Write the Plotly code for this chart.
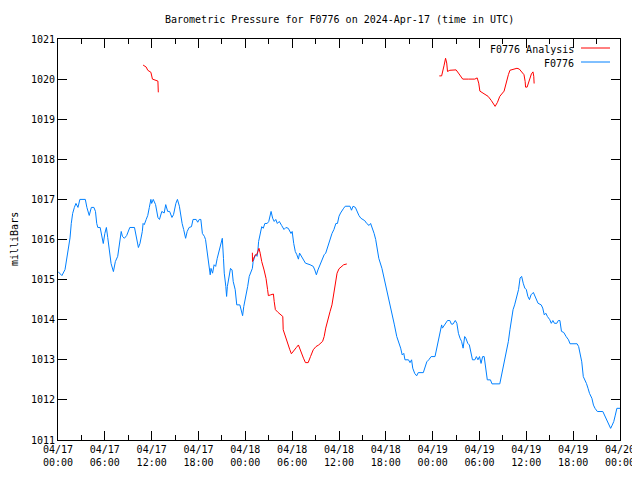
import pandas as pd
import plotly.graph_objects as go

BASE = pd.Timestamp("2024-04-17 00:00")
TITLE = "Barometric Pressure for F0776 on 2024-Apr-17 (time in UTC)"
Y_LABEL = "milliBars"
SERIES_NAMES = ["F0776 Analysis", "F0776"]
COLORS = ["#ff0000", "#0080ff"]

# Observed station pressure (hours after 2024-04-17 00:00 UTC, mbar)
obs_hours = [0.0, 0.5, 0.9, 1.15, 1.37, 1.54, 1.7, 1.88, 2.1, 2.3, 2.56, 2.8, 3.5, 3.7, 4.0, 4.27, 4.6, 4.8, 4.96, 5.1,
             5.4, 5.6, 5.8, 6.0, 6.2, 6.37, 6.6, 6.8, 7.1, 7.35, 7.65, 7.86, 8.1, 8.25, 8.5, 8.8, 9.2, 9.8, 9.9, 10.1,
             10.3, 10.5, 10.8, 10.9, 11.05, 11.3, 11.5, 11.7, 11.9, 12.0, 12.2, 12.5, 12.7, 12.8, 13.0, 13.1, 13.3, 13.6, 13.8, 14.05,
             14.3, 14.6, 14.8, 15.1, 15.3, 15.55, 15.7, 15.9, 16.1, 16.35, 16.55, 16.8, 17.1, 17.3, 17.7, 17.9, 18.1, 18.3, 18.5, 18.75,
             18.9, 19.05, 19.25, 19.5, 19.6, 19.8, 20.0, 20.2, 20.4, 20.6, 20.85, 21.05, 21.2, 21.3, 21.5, 21.6, 21.7, 21.87, 22.1, 22.3,
             22.45, 22.7, 22.9, 23.3, 23.5, 23.65, 23.8, 24.1, 24.3, 24.5, 24.7, 24.9, 25.0, 25.3, 25.5, 25.6, 25.7, 25.95, 26.1, 26.3,
             26.5, 26.8, 27.0, 27.3, 27.5, 27.7, 27.9, 28.1, 28.35, 28.65, 28.95, 29.2, 29.5, 29.85, 30.0, 30.2, 30.4, 30.6, 30.8, 30.95,
             31.2, 31.5, 31.7, 32.3, 32.7, 32.9, 33.1, 33.3, 33.6, 33.8, 34.1, 34.3, 34.55, 34.75, 34.9, 35.1, 35.35, 35.6, 35.8, 36.0,
             36.2, 36.4, 36.6, 36.8, 37.4, 37.6, 37.8, 38.1, 38.3, 38.55, 38.8, 39.05, 39.3, 39.55, 39.85, 40.05, 40.3, 40.5, 40.7, 40.9,
             41.1, 41.5, 41.8, 42.1, 42.45, 42.75, 43.1, 43.4, 43.7, 43.9, 44.1, 44.3, 44.45, 44.9, 45.1, 45.3, 45.45, 45.7, 45.95, 46.15,
             46.8, 47.0, 47.25, 47.5, 47.8, 48.3, 48.5, 48.7, 48.9, 49.15, 49.25, 49.4, 49.6, 49.9, 50.2, 50.4, 50.6, 50.9, 51.1, 51.3,
             51.5, 51.7, 51.9, 52.1, 52.25, 52.5, 52.7, 52.9, 53.1, 53.4, 53.6, 53.8, 54.0, 54.2, 54.4, 54.6, 54.8, 55.0, 55.4, 55.6,
             56.6, 56.8, 57.0, 57.3, 57.5, 57.7, 57.9, 58.1, 58.3, 58.5, 58.8, 59.0, 59.2, 59.4, 59.6, 59.8, 60.0, 60.2, 60.4, 60.6,
             60.9, 61.1, 61.5, 61.9, 62.1, 62.3, 62.5, 62.7, 63.0, 63.2, 63.4, 63.6, 63.9, 64.1, 64.3, 64.5, 64.8, 65.1, 65.4, 65.6,
             66.5, 66.7, 66.9, 67.1, 67.3, 67.5, 67.7, 67.9, 68.1, 68.4, 68.6, 68.8, 69.1, 69.8, 70.0, 70.3, 70.5, 70.8, 71.0, 71.2,
             71.4, 71.6, 72.0]
obs_mbar = [1015.2, 1015.1, 1015.25, 1015.55, 1015.85, 1016.04, 1016.4, 1016.65, 1016.8, 1016.9, 1016.8, 1017.0, 1017.0, 1016.8, 1016.6, 1016.8, 1016.8, 1016.7, 1016.4, 1016.3,
            1016.3, 1016.1, 1015.9, 1016.15, 1016.3, 1016.05, 1015.65, 1015.4, 1015.2, 1015.45, 1015.58, 1015.83, 1016.2, 1016.08, 1016.03, 1016.1, 1016.3, 1016.3, 1016.2, 1015.95,
            1015.8, 1015.9, 1016.2, 1016.4, 1016.37, 1016.5, 1016.6, 1016.8, 1017.0, 1016.9, 1017.0, 1016.87, 1016.65, 1016.55, 1016.5, 1016.58, 1016.7, 1016.66, 1016.87, 1016.7,
            1016.7, 1016.55, 1016.62, 1016.9, 1017.0, 1016.83, 1016.58, 1016.4, 1016.25, 1016.03, 1016.2, 1016.3, 1016.32, 1016.5, 1016.5, 1016.43, 1016.5, 1016.5, 1016.15, 1016.08,
            1016.0, 1015.8, 1015.5, 1015.12, 1015.28, 1015.16, 1015.37, 1015.33, 1015.53, 1015.7, 1015.9, 1016.03, 1015.53, 1015.16, 1014.83, 1014.58, 1014.83, 1015.08, 1015.28, 1015.24,
            1014.95, 1014.75, 1014.37, 1014.37, 1014.25, 1014.1, 1014.33, 1014.58, 1014.83, 1015.08, 1015.2, 1015.28, 1015.45, 1015.62, 1015.58, 1015.7, 1015.95, 1016.15, 1016.32, 1016.28,
            1016.4, 1016.4, 1016.45, 1016.7, 1016.53, 1016.45, 1016.5, 1016.4, 1016.45, 1016.35, 1016.25, 1016.3, 1016.28, 1016.15, 1016.2, 1015.9, 1015.7, 1015.62, 1015.51, 1015.66,
            1015.58, 1015.5, 1015.41, 1015.37, 1015.33, 1015.24, 1015.12, 1015.24, 1015.37, 1015.45, 1015.62, 1015.66, 1015.83, 1015.9, 1016.0, 1016.15, 1016.25, 1016.4, 1016.4, 1016.58,
            1016.66, 1016.74, 1016.78, 1016.83, 1016.83, 1016.73, 1016.83, 1016.8, 1016.7, 1016.6, 1016.53, 1016.5, 1016.47, 1016.4, 1016.35, 1016.4, 1016.28, 1016.15, 1016.0, 1015.8,
            1015.53, 1015.28, 1015.03, 1014.75, 1014.45, 1014.16, 1013.87, 1013.58, 1013.41, 1013.29, 1013.12, 1013.16, 1013.0, 1013.0, 1012.93, 1013.0, 1012.79, 1012.66, 1012.6, 1012.68,
            1012.68, 1012.79, 1012.95, 1013.0, 1013.08, 1013.08, 1013.29, 1013.5, 1013.66, 1013.87, 1013.79, 1013.83, 1013.91, 1013.98, 1013.98, 1013.89, 1013.89, 1013.98, 1013.91, 1013.66,
            1013.54, 1013.46, 1013.29, 1013.58, 1013.54, 1013.41, 1013.37, 1013.16, 1013.0, 1013.0, 1013.08, 1013.0, 1013.08, 1012.91, 1013.08, 1013.08, 1012.7, 1012.5, 1012.5, 1012.4,
            1012.4, 1012.58, 1012.83, 1013.04, 1013.25, 1013.46, 1013.75, 1014.0, 1014.25, 1014.37, 1014.58, 1014.75, 1015.04, 1015.08, 1014.91, 1014.79, 1014.75, 1014.58, 1014.5, 1014.62,
            1014.68, 1014.58, 1014.41, 1014.37, 1014.29, 1014.12, 1014.16, 1014.08, 1014.0, 1013.91, 1013.98, 1013.91, 1013.91, 1013.98, 1013.98, 1013.71, 1013.68, 1013.58, 1013.5, 1013.4,
            1013.4, 1013.33, 1013.16, 1012.95, 1012.58, 1012.5, 1012.41, 1012.29, 1012.16, 1012.04, 1011.87, 1011.79, 1011.71, 1011.71, 1011.62, 1011.51, 1011.41, 1011.29, 1011.37, 1011.46,
            1011.62, 1011.79, 1011.79]

# Analysis pressure, three separate runs (None = gap)
ana_hours = [10.9, 11.3, 11.5, 11.9, 12.1, 12.8, 12.85, None,
             24.9, 24.92, 25.05, 25.3, 25.45, 25.6, 25.75, 25.9, 26.1, 26.4, 26.65, 26.85, 26.95, 27.25, 27.6, 27.7, 27.85,
             28.2, 28.5, 28.8, 28.85, 29.05, 29.3, 29.5, 29.7, 29.9, 30.25, 30.55, 30.8, 31.1, 31.45, 31.7, 32.05, 32.35,
             32.7, 33.05, 33.4, 33.9, 34.1, 34.3, 34.6, 34.85, 35.1, 35.35, 35.55, 35.75, 36.0, 36.3, 36.6, 37.0, None,
             48.85, 49.15, 49.45, 49.65, 49.8, 49.9, 50.2, 50.65, 51.0, 51.3, 51.85, 52.6, 53.4, 53.7, 53.9, 54.05, 54.4,
             54.8, 55.1, 55.5, 55.8, 56.0, 56.3, 56.6, 57.15, 57.4, 57.7, 57.9, 58.35, 58.8, 59.1, 59.4, 59.7, 59.85, 59.9,
             60.1, 60.35, 60.65, 60.85, 60.95, 61.0]
ana_mbar = [1020.35, 1020.3, 1020.22, 1020.17, 1020.0, 1019.95, 1019.67, None,
            1015.67, 1015.45, 1015.53, 1015.62, 1015.62, 1015.7, 1015.78, 1015.66, 1015.45, 1015.24, 1015.03, 1014.75, 1014.6, 1014.62, 1014.64, 1014.45, 1014.25,
            1014.18, 1014.12, 1014.08, 1013.75, 1013.62, 1013.46, 1013.33, 1013.25, 1013.15, 1013.25, 1013.31, 1013.37, 1013.2, 1013.04, 1012.93, 1012.93, 1013.08,
            1013.25, 1013.33, 1013.37, 1013.46, 1013.58, 1013.79, 1014.04, 1014.2, 1014.37, 1014.66, 1014.91, 1015.16, 1015.27, 1015.31, 1015.37, 1015.39, None,
            1020.08, 1020.08, 1020.33, 1020.52, 1020.4, 1020.19, 1020.22, 1020.22, 1020.23, 1020.15, 1020.0, 1020.0, 1020.0, 1020.03, 1019.9, 1019.7, 1019.65,
            1019.6, 1019.57, 1019.47, 1019.38, 1019.32, 1019.42, 1019.57, 1019.7, 1019.9, 1020.11, 1020.22, 1020.25, 1020.27, 1020.25, 1020.17, 1020.11, 1019.94, 1019.8,
            1019.8, 1019.97, 1020.13, 1020.18, 1020.07, 1019.89]

Y_RANGE = [1011, 1021]
X_RANGE_HOURS = [0, 72]


def to_time(hours):
    return [None if h is None else BASE + pd.Timedelta(hours=h) for h in hours]


FONT = "DejaVu Sans Mono"

fig = go.Figure()
fig.add_trace(go.Scatter(x=to_time(obs_hours), y=obs_mbar, mode="lines", name=SERIES_NAMES[1],
                         line=dict(color=COLORS[1], width=1), connectgaps=False, showlegend=False))
fig.add_trace(go.Scatter(x=to_time(ana_hours), y=ana_mbar, mode="lines", name=SERIES_NAMES[0],
                         line=dict(color=COLORS[0], width=1), connectgaps=False, showlegend=False))

# The page body has an 8px margin, so the figure is drawn at (8, 8) in the window.
OFF = 8
W, H = 640 - OFF, 480 - OFF
PLOT_L, PLOT_R, PLOT_T, PLOT_B = 58, 620, 39, 440  # window pixels
L, R, T, B = PLOT_L - OFF, 640 - PLOT_R, PLOT_T - OFF, 480 - PLOT_B
pw, ph = PLOT_R - PLOT_L, PLOT_B - PLOT_T


def px_x(px):
    return (px - PLOT_L) / pw


def px_y(py):
    return (PLOT_B - py) / ph


annotations = [
    dict(text=TITLE, xref="paper", yref="paper", x=0.5, y=px_y(19), xanchor="center", yanchor="middle",
         showarrow=False, font=dict(family=FONT, size=10, color="black")),
    dict(text=Y_LABEL, xref="paper", yref="paper", x=px_x(14.5), y=0.5, xanchor="center", yanchor="middle",
         textangle=-90, showarrow=False, borderpad=0, font=dict(family=FONT, size=10, color="black")),
]
shapes = []
for i, (name, color) in enumerate(zip(SERIES_NAMES, COLORS)):
    yy = 49 + 14 * i
    annotations.append(dict(text=name, xref="paper", yref="paper", x=px_x(576), y=px_y(yy),
                            xanchor="right", yanchor="middle", showarrow=False,
                            font=dict(family=FONT, size=10, color="black")))
    shapes.append(dict(type="line", xref="paper", yref="paper", x0=px_x(581), x1=px_x(610),
                       y0=px_y(yy - 1), y1=px_y(yy - 1), line=dict(color=color, width=1)))

fig.update_layout(
    width=W, height=H,
    margin=dict(l=L, r=R, t=T, b=B, autoexpand=False),
    paper_bgcolor="white", plot_bgcolor="white",
    showlegend=False,
    annotations=annotations,
    shapes=shapes,
    font=dict(family=FONT, size=10, color="black"),
)
fig.update_xaxes(
    type="date", automargin=False,
    range=[BASE + pd.Timedelta(hours=X_RANGE_HOURS[0]), BASE + pd.Timedelta(hours=X_RANGE_HOURS[1])],
    dtick=6 * 3600 * 1000, tick0=BASE, tickformat="%m/%d<br>%H:%M",
    ticks="inside", ticklen=9, tickcolor="black", tickwidth=1,
    minor=dict(ticks="inside", ticklen=5, dtick=3 * 3600 * 1000, tickcolor="black", showgrid=False),
    showline=True, linecolor="black", linewidth=1, mirror="ticks",
    showgrid=False, zeroline=False,
    tickfont=dict(family=FONT, size=10, color="black"),
)
fig.update_yaxes(
    range=Y_RANGE, dtick=1, tick0=1011, automargin=False,
    ticks="inside", ticklen=9, tickcolor="black", tickwidth=1,
    showline=True, linecolor="black", linewidth=1, mirror="ticks",
    showgrid=False, zeroline=False, tickformat="d",
    tickfont=dict(family=FONT, size=10, color="black"),
)

fig.write_html("out.html")
